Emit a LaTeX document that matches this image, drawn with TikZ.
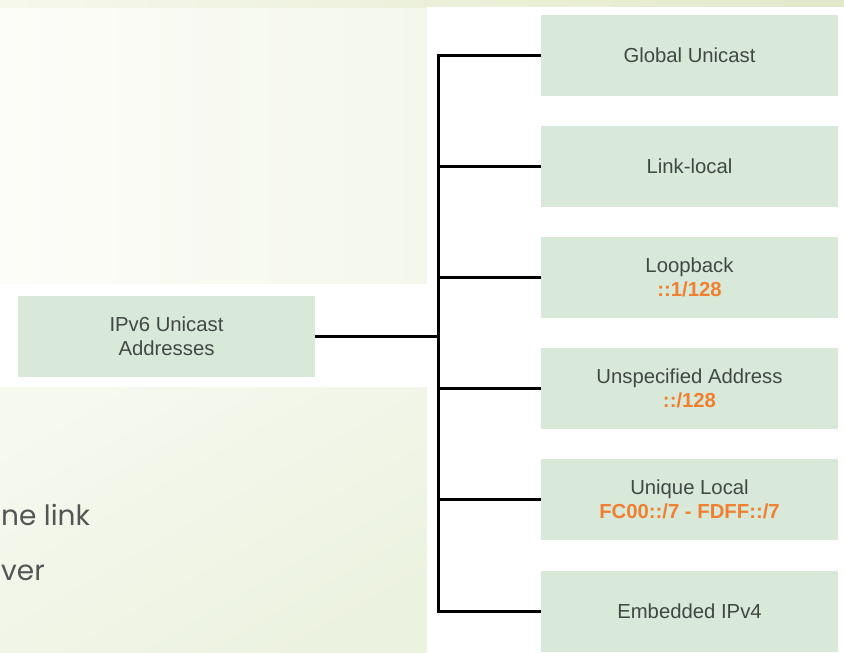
\documentclass[tikz,border=0pt]{standalone}
\usepackage{fontspec}
\setmainfont{Liberation Sans}
\newfontfamily\bodyfont{Poppins}
\begin{document}
\definecolor{boxfill}{RGB}{216,233,218}
\definecolor{boxtext}{RGB}{66,72,68}
\definecolor{addr}{RGB}{240,128,48}
\definecolor{bgA}{RGB}{252,253,248}
\definecolor{bgB}{RGB}{236,242,224}
\definecolor{bandA}{RGB}{246,248,236}
\definecolor{bandB}{RGB}{226,233,202}
\definecolor{slidetext}{RGB}{85,85,85}
\tikzset{
  x=1pt, y=-1pt,
  kind/.style={fill=boxfill, draw=none, minimum width=297pt, minimum height=81pt,
    inner sep=0pt, text=boxtext, align=center,
    font=\fontsize{20.3}{24}\selectfont},
  link/.style={line width=3pt, black},
  slide/.style={text=slidetext, font=\bodyfont\fontsize{28}{34}\selectfont, anchor=base west, inner sep=0pt}
}
\begin{tikzpicture}
\useasboundingbox (0,0) rectangle (844,653);
\clip (0,0) rectangle (844,653);
% backdrop of the slide
\shade[left color=bgA, right color=bgB] (0,0) rectangle (844,653);
\shade[left color=bandA, right color=bandB] (0,0) rectangle (844,7);
\shade[top color=bgA!60!bgB, bottom color=bgB, shading angle=30] (0,387) rectangle (427,653);
% white panels behind the chart
\fill[white] (427,7) rectangle (844,653);
\fill[white] (0,284) rectangle (427,387);
% slide text at the left edge
\node[slide] (t1) at (1,525) {ne link};
\node[slide] (t2) at (1,580) {ver};
% root
\node[kind] (root) at (166.5,336) {IPv6 Unicast\\Addresses};
% address kinds
\node[kind] (gu) at (689.5,55.5)  {Global Unicast};
\node[kind] (ll) at (689.5,166.5) {Link-local};
\node[kind] (lb) at (689.5,277.5) {Loopback\\\textcolor{addr}{\bfseries ::1/128}};
\node[kind] (un) at (689.5,388.5) {Unspecified Address\\\textcolor{addr}{\bfseries ::/128}};
\node[kind] (ul) at (689.5,499.5) {Unique Local\\\textcolor{addr}{\bfseries FC00::/7 - FDFF::/7}};
\node[kind] (em) at (689.5,611)   {Embedded IPv4};
% bus
\coordinate (busT) at (438,55.5);
\coordinate (busB) at (438,611);
\draw[link, line cap=rect] (busT) -- (busB);
\draw[link] (root.east) -- (root.east -| busT);
\foreach \n in {gu,ll,lb,un,ul,em}
  \draw[link] (\n.west) -- (\n.west -| busT);
\end{tikzpicture}
\end{document}
